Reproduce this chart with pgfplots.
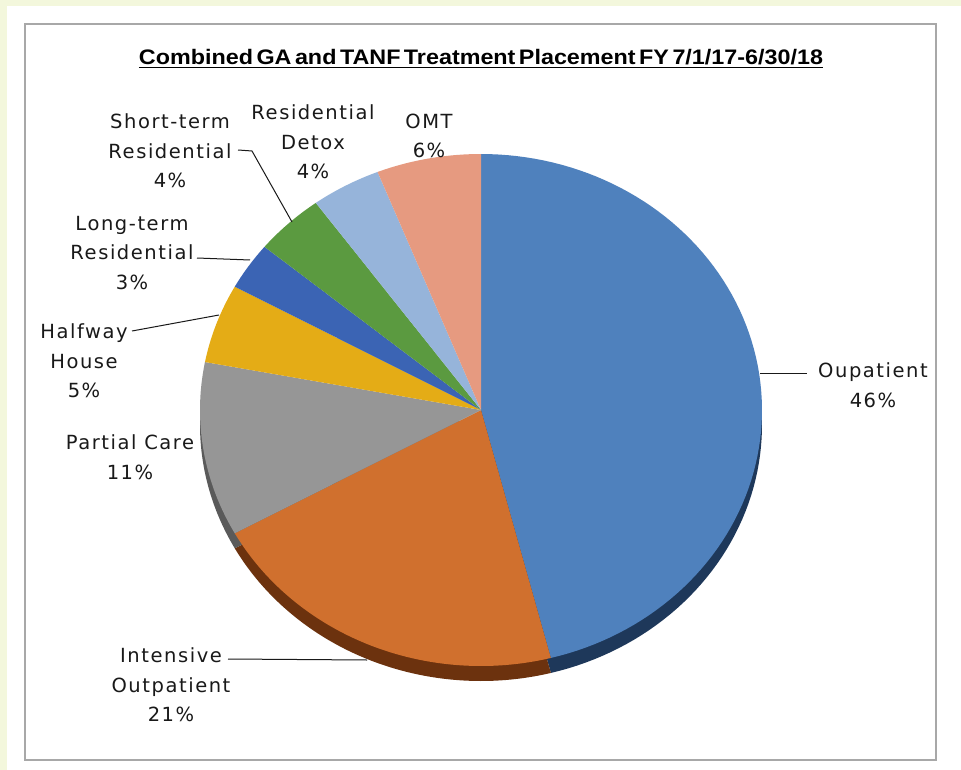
\documentclass[border=0pt]{standalone}
\usepackage{pgfplots}
\pgfplotsset{compat=1.18}
\usepackage{graphicx}
\usepackage{fontspec}
\setmainfont{DejaVu Sans}
\newfontfamily\lbl{DejaVu Sans}[LetterSpace=8]
\newfontfamily\ttl{Liberation Sans}

\definecolor{bgyellow}{RGB}{243,247,220}
\definecolor{framegray}{RGB}{168,168,168}
\definecolor{cOut}{RGB}{79,129,189}
\definecolor{cOutD}{RGB}{30,56,90}
\definecolor{cInt}{RGB}{208,112,46}
\definecolor{cIntD}{RGB}{108,50,14}
\definecolor{cPar}{RGB}{150,150,150}
\definecolor{cParD}{RGB}{90,90,90}
\definecolor{cHal}{RGB}{228,172,22}
\definecolor{cLon}{RGB}{59,100,180}
\definecolor{cSho}{RGB}{91,154,64}
\definecolor{cDet}{RGB}{150,180,218}
\definecolor{cOMT}{RGB}{230,154,128}
\definecolor{txt}{RGB}{25,25,25}

% slice: #1 = cumulative % at start, #2 = cumulative % at end, #3 colour
\newcommand{\slice}[3]{%
  \addplot[fill=#3, draw=none, domain={90-3.6*#2}:{90-3.6*#1}, samples=90]
    ({481+281*cos(x)},{410-256*sin(x)}) -- (481,410) -- cycle;}
\newcommand{\shadow}[3]{%
  \addplot[fill=#3, draw=none, domain={90-3.6*#2}:{90-3.6*#1}, samples=90]
    ({481+281*cos(x)},{425-256*sin(x)}) -- (481,425) -- cycle;}

\begin{document}
\begin{tikzpicture}[lb/.style={font=\lbl\fontsize{19.5}{29.5}\selectfont, align=center, text=txt, inner sep=0pt}]
\begin{axis}[x=1pt, y=1pt, xmin=0, xmax=961, ymin=0, ymax=770, y dir=reverse,
  hide axis, clip=false, scale only axis]
% background
\addplot[fill=bgyellow, draw=none] coordinates {(0,0) (961,0) (961,770) (0,770)} -- cycle;
\addplot[fill=white, draw=none] coordinates {(7,6) (961,6) (961,770) (7,770)} -- cycle;
\addplot[draw=framegray, line width=2pt] coordinates {(25,24) (936,24) (936,760) (25,760)} -- cycle;

% values (percent): Oupatient 46, Intensive Outpatient 21, Partial Care 11,
% Halfway House 5, Long-term Residential 3, Short-term Residential 4,
% Residential Detox 4, OMT 6
\shadow{0}{46}{cOutD}
\shadow{46}{67}{cIntD}
\shadow{67}{78}{cParD}
\slice{0}{46}{cOut}
\slice{46}{67}{cInt}
\slice{67}{78}{cPar}
\slice{78}{83}{cHal}
\slice{83}{86}{cLon}
\slice{86}{90}{cSho}
\slice{90}{94}{cDet}
\slice{94}{100}{cOMT}

% leader lines
\addplot[txt, line width=1pt] coordinates {(238,150) (252,151) (292,222)};
\addplot[txt, line width=1pt] coordinates {(197,258) (250,260)};
\addplot[txt, line width=1pt] coordinates {(132,331) (219,315)};
\addplot[txt, line width=1pt] coordinates {(228,659) (367,660)};
\addplot[txt, line width=1pt] coordinates {(760,373) (807,373)};

% labels
\node[lb] at (170,151) {Short-term\\Residential\\4\%};
\node[lb] at (313,142) {Residential\\Detox\\4\%};
\node[lb] at (429,136) {OMT\\6\%};
\node[lb] at (132,253) {Long-term\\Residential\\3\%};
\node[lb] at (84,361) {Halfway\\House\\5\%};
\node[lb] at (130,457) {Partial Care\\11\%};
\node[lb] at (171,685) {Intensive\\Outpatient\\21\%};
\node[lb] at (873,385) {Oupatient\\46\%};

% title
\node[inner sep=0pt, text=black, anchor=base] at (481,65) {\resizebox{684pt}{\height}{\ttl\bfseries\fontsize{21}{24}\selectfont\spaceskip=0.15em\underline{Combined GA and TANF Treatment Placement FY 7/1/17-6/30/18}}};
\end{axis}
\end{tikzpicture}
\end{document}
